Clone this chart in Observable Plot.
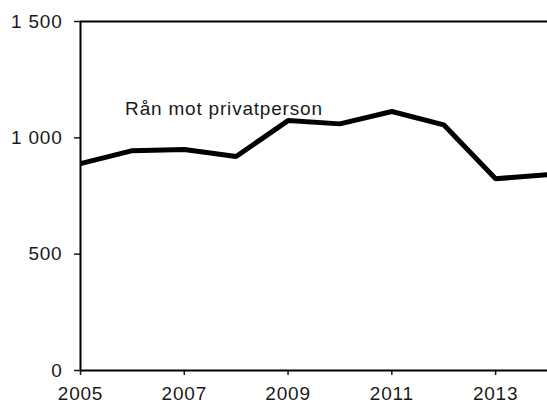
<!DOCTYPE html>
<html>
<head>
<meta charset="utf-8">
<script src="https://cdn.jsdelivr.net/npm/d3@7"></script>
<script src="https://cdn.jsdelivr.net/npm/@observablehq/plot@0.6"></script>
<style>
  html, body { margin: 0; padding: 0; background: #fff; }
  #chart svg { display: block; }
</style>
</head>
<body>
<div id="chart"></div>
<script>
const years = [2005, 2006, 2007, 2008, 2009, 2010, 2011, 2012, 2013, 2014];
const values = [889, 945, 950, 920, 1074, 1060, 1113, 1056, 824, 842];
const seriesLabel = "Rån mot privatperson";
const xTicks = [2005, 2007, 2009, 2011, 2013];
const yTicks = [0, 500, 1000, 1500];

const data = years.map((year, i) => ({year, value: values[i]}));
const fmt = d => d3.format(",")(d).replace(/,/g, "\u00a0");

const chart = Plot.plot({
  width: 547,
  height: 403,
  marginLeft: 80,
  marginRight: 0,
  marginTop: 21,
  marginBottom: 33,
  style: {fontFamily: "Liberation Sans, Arial, sans-serif", fontSize: "19px", color: "#1a1a1a", letterSpacing: "0.8px", background: "#fff"},
  x: {domain: [2005, 2014], label: null},
  y: {domain: [0, 1500], label: null},
  marks: [
    Plot.axisX({ticks: xTicks, tickFormat: d => String(d), tickSize: 5, tickPadding: 11, strokeWidth: 1.5, label: null}),
    Plot.axisY({ticks: yTicks, tickFormat: fmt, tickSize: 6, tickPadding: 12, strokeWidth: 1.5, label: null}),
    Plot.ruleY([0, 1500], {stroke: "#000", strokeWidth: 2}),
    Plot.ruleX([2005], {stroke: "#000", strokeWidth: 2}),
    Plot.line(data, {x: "year", y: "value", stroke: "#000", strokeWidth: 5, strokeLinejoin: "miter", strokeLinecap: "butt"}),
    Plot.text([{year: 2005.86, value: 1125, label: seriesLabel}], {x: "year", y: "value", text: "label", textAnchor: "start", lineAnchor: "middle", fill: "#1a1a1a", fontSize: 19})
  ]
});
document.getElementById("chart").appendChild(chart);
</script>
</body>
</html>
